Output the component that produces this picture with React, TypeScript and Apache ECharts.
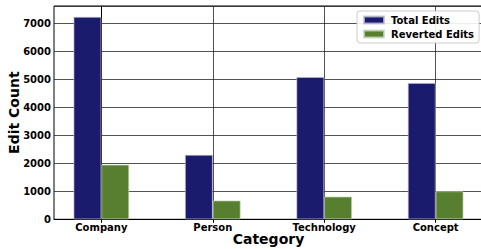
import React, { useEffect, useRef } from "react";
import * as echarts from "echarts";

const categories = ["Company", "Person", "Technology", "Concept"];
const totalEdits = [7230, 2300, 5080, 4870];
const revertedEdits = [1950, 670, 810, 1000];
const categoryPositions = [0, 1, 2, 3];
const yMax = 7620;

const FONT = "DejaVu Sans";

export default function App() {
  const ref = useRef<HTMLDivElement>(null);
  useEffect(() => {
    if (!ref.current) return;
    const chart = echarts.init(ref.current, null, { renderer: "svg" });
    const labelStyle = { fontFamily: FONT, fontWeight: "bold" as const, fontSize: 10, color: "#000" };
    chart.setOption({
      animation: false,
      backgroundColor: "#fff",
      grid: {
        left: 54,
        top: 6,
        width: 429,
        height: 213.3,
        outerBoundsMode: "none",
        containLabel: false,
        show: true,
        borderColor: "#000",
        borderWidth: 1,
        backgroundColor: "transparent",
      },
      legend: {
        orient: "vertical",
        left: 357,
        top: 11,
        itemWidth: 20,
        itemHeight: 7,
        itemGap: 2,
        padding: [3, 5, 3, 6],
        backgroundColor: "rgba(255,255,255,0.9)",
        borderColor: "#cccccc",
        borderWidth: 1,
        borderRadius: 3,
        icon: "rect",
        textStyle: { ...labelStyle, lineHeight: 12, padding: [0, 0, 0, 2] },
        data: ["Total Edits", "Reverted Edits"],
      },
      xAxis: {
        type: "value",
        min: -0.425,
        max: 3.425,
        name: "Category",
        nameLocation: "middle",
        nameMoveOverlap: false,
        nameGap: 13,
        nameTextStyle: { fontFamily: FONT, fontWeight: "bold", fontSize: 14, color: "#000" },
        axisLine: { show: true, lineStyle: { color: "#000", width: 1 } },
        axisTick: { show: true, length: 3.5, customValues: categoryPositions, lineStyle: { color: "#000" } },
        axisLabel: {
          ...labelStyle,
          margin: 3,
          customValues: categoryPositions,
          formatter: (v: number) => categories[Math.round(v)] ?? "",
        },
        splitLine: { show: true, lineStyle: { color: "#262626", width: 0.8 } },
      },
      yAxis: {
        type: "value",
        min: 0,
        max: yMax,
        interval: 1000,
        name: "Edit Count",
        nameLocation: "middle",
        nameMoveOverlap: false,
        nameGap: 33,
        nameTextStyle: { fontFamily: FONT, fontWeight: "bold", fontSize: 14, color: "#000" },
        axisLine: { show: true, lineStyle: { color: "#000", width: 1 } },
        axisTick: { show: true, length: 3.5, lineStyle: { color: "#000" } },
        axisLabel: { ...labelStyle, margin: 3, showMaxLabel: false, formatter: (v: number) => String(v) },
        splitLine: { show: true, lineStyle: { color: "#262626", width: 0.8 } },
      },
      series: [
        {
          name: "Total Edits",
          type: "bar",
          barWidth: 27.8,
          barGap: "0%",
          itemStyle: { color: "#1b1b6e", borderColor: "rgba(190,190,210,0.8)", borderWidth: 0.8 },
          data: categoryPositions.map((x, i) => [x, totalEdits[i]]),
        },
        {
          name: "Reverted Edits",
          type: "bar",
          barWidth: 27.8,
          barGap: "0%",
          itemStyle: { color: "#587f2f", borderColor: "rgba(200,215,190,0.8)", borderWidth: 0.8 },
          data: categoryPositions.map((x, i) => [x, revertedEdits[i]]),
        },
      ],
    });
    return () => chart.dispose();
  }, []);
  return (
    <div
      ref={ref}
      style={{ position: "fixed", left: 0, top: 0, width: 481, height: 249 }}
    />
  );
}
